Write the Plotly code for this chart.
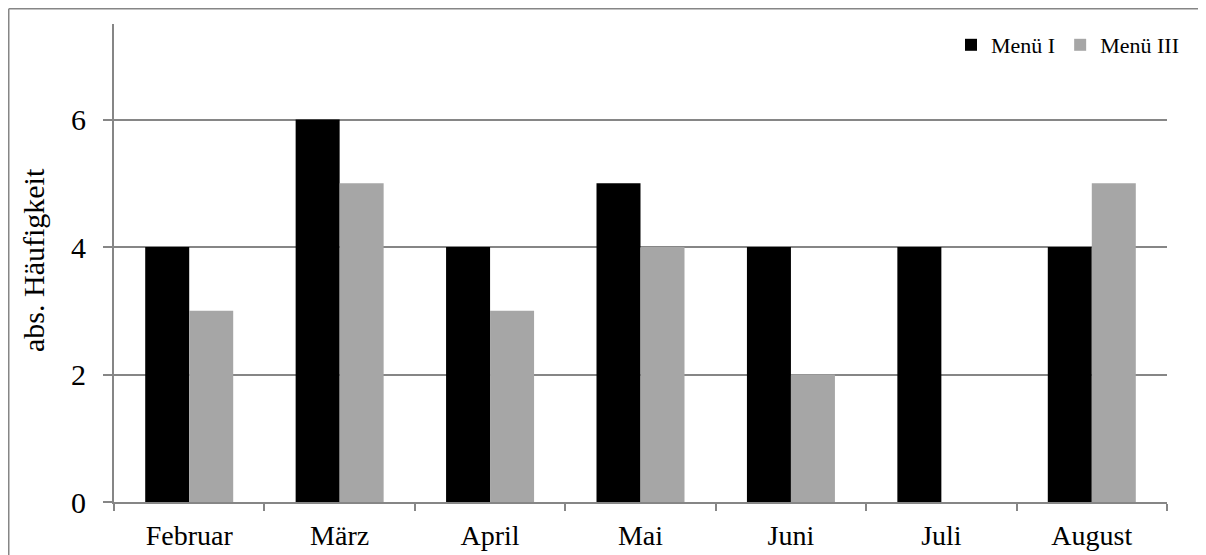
import plotly.graph_objects as go

months = ["Februar", "März", "April", "Mai", "Juni", "Juli", "August"]
menu1 = [4, 6, 4, 5, 4, 4, 4]
menu3 = [3, 5, 3, 4, 2, 0, 5]
y_ticks = [0, 2, 4, 6]
y_title = "abs. Häufigkeit"

# page has an 8px body margin, so figure coordinates = page coordinates - 8
OFF = 8
W, H = 1206 - OFF, 555 - OFF
L, T = 114 - OFF, 24 - OFF
R = W - (1167 - OFF)
B = H - (502 - OFF)
pw, ph = W - L - R, H - T - B

def px_x(x):
    return (x - OFF - L) / pw

def px_y(y):
    return (H - B - (y - OFF)) / ph

fig = go.Figure()
fig.add_trace(go.Bar(x=months, y=menu1, name="Menü I", marker=dict(color="#000000", line=dict(width=0))))
fig.add_trace(go.Bar(x=months, y=menu3, name="Menü III", marker=dict(color="#a6a6a6", line=dict(width=0))))

axis_col = "#868686"
fig.update_layout(
    width=W, height=H,
    margin=dict(l=L, r=R, t=T, b=B, autoexpand=False),
    paper_bgcolor="white", plot_bgcolor="white",
    barmode="group", bargap=0.415, bargroupgap=0,
    font=dict(family="Liberation Serif", color="black"),
    legend=dict(orientation="h", x=px_x(1184), xanchor="right", y=px_y(45), yanchor="middle",
                font=dict(size=22, family="Liberation Serif"), itemwidth=30,
                bgcolor="rgba(0,0,0,0)", traceorder="normal"),
    xaxis=dict(tickson="boundaries", ticks="outside", ticklen=7, tickcolor=axis_col, tickwidth=2,
               showline=True, linecolor=axis_col, linewidth=2, showgrid=False, automargin=False,
               tickfont=dict(size=28, family="Liberation Serif"), ticklabelstandoff=7),
    yaxis=dict(range=[0, 7.5], tickvals=y_ticks, ticks="outside", ticklen=9, tickcolor=axis_col, tickwidth=2,
               showline=True, linecolor=axis_col, linewidth=2, showgrid=True, gridcolor=axis_col, gridwidth=1.5,
               zeroline=False, automargin=False,
               tickfont=dict(size=30, family="Liberation Serif"), ticklabelstandoff=11),
    annotations=[
        dict(text=y_title, xref="paper", yref="paper", x=px_x(34), y=px_y(260),
             xanchor="center", yanchor="middle", textangle=-90, showarrow=False,
             font=dict(size=30, family="Liberation Serif", color="black")),
    ],
    shapes=[
        dict(type="line", xref="paper", yref="paper", x0=px_x(8.75), x1=px_x(8.75), y0=px_y(560), y1=px_y(8.75),
             line=dict(color=axis_col, width=1.5)),
        dict(type="line", xref="paper", yref="paper", x0=px_x(8.75), x1=px_x(1210), y0=px_y(8.75), y1=px_y(8.75),
             line=dict(color=axis_col, width=1.5)),
    ],
)

fig.write_html("out.html")
